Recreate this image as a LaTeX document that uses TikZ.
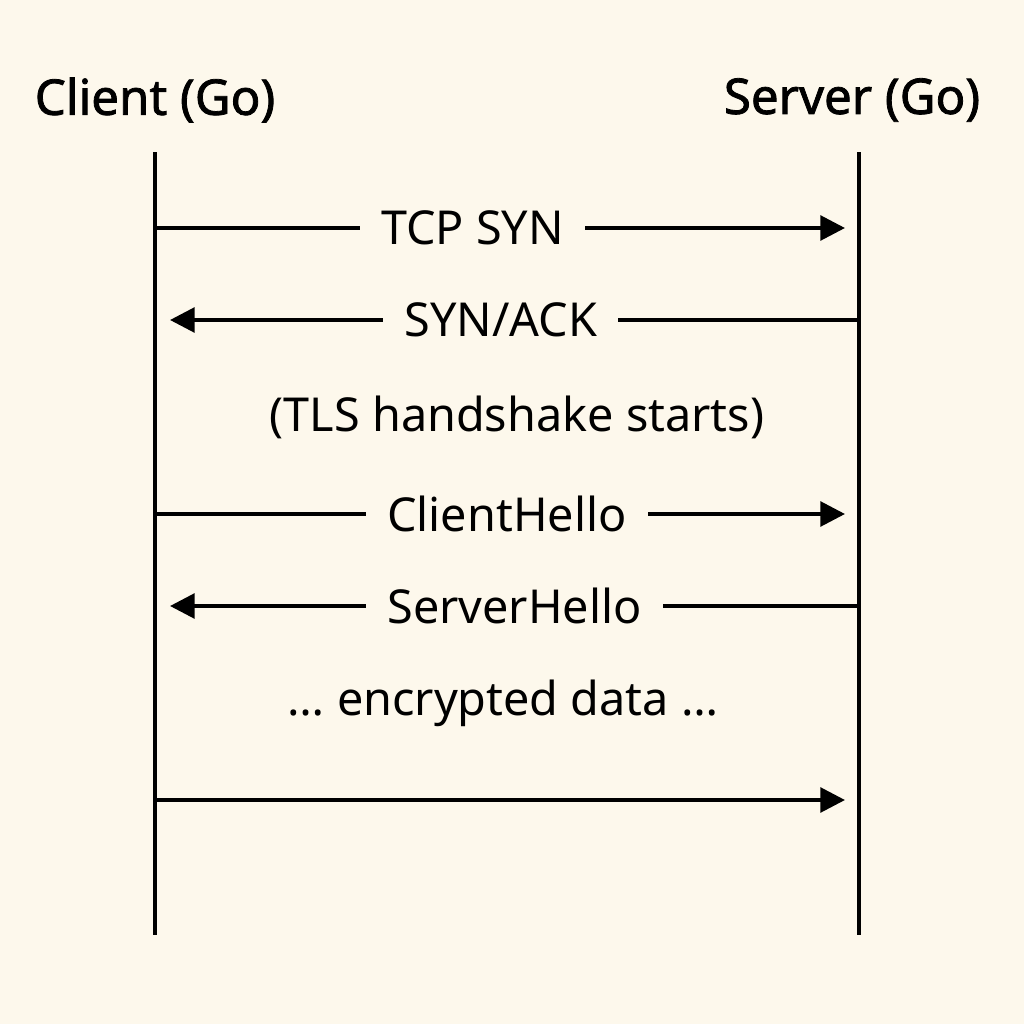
\documentclass[tikz,border=0pt]{standalone}
\usepackage{fontspec}
\setmainfont{Noto Sans}
\newfontfamily\ttlfont{Noto Sans}[FakeBold=1.6]
\usetikzlibrary{arrows.meta}
\definecolor{bg}{HTML}{FDF8EC}
\begin{document}
\begin{tikzpicture}[x=0.01cm,y=-0.01cm,
  life/.style={line width=1.1pt,black},
  msg/.style={line width=1.1pt,-{Triangle[length=7pt,width=7pt]}},
  lbl/.style={fill=bg,inner xsep=6pt,font=\fontsize{13.3}{16}\selectfont},
  title/.style={font=\ttlfont\fontsize{14}{16}\selectfont\bfseries}]
\fill[bg] (0,0) rectangle (1024,1024);
\useasboundingbox (0,0) rectangle (1024,1024);
\node[title] (ct) at (155,100) {Client (Go)};
\node[title] (st) at (852,100) {Server (Go)};
\coordinate (c0) at (155,152); \coordinate (c1) at (155,935);
\coordinate (s0) at (859,152); \coordinate (s1) at (859,935);
\draw[life] (c0) -- (c1);
\draw[life] (s0) -- (s1);
\foreach \n/\y in {a/228,b/320,c/514,d/606,e/800}{
  \coordinate (cl\n) at (155,\y); \coordinate (sl\n) at (859,\y);
  \coordinate (ca\n) at (170,\y); \coordinate (sa\n) at (845,\y);}
\draw[msg] (cla) -- node[lbl,pos=0.46] (la) {TCP SYN} (saa);
\draw[msg] (slb) -- node[lbl,pos=0.52] (lb) {SYN/ACK} (cab);
\node[lbl] (tls) at (517,417) {(TLS handshake starts)};
\draw[msg] (clc) -- node[lbl,pos=0.51] (lc) {ClientHello} (sac);
\draw[msg] (sld) -- node[lbl,pos=0.5] (ld) {ServerHello} (cad);
\node[lbl] (enc) at (503,703) {… encrypted data …};
\draw[msg] (cle) -- (sae);
\end{tikzpicture}
\end{document}
